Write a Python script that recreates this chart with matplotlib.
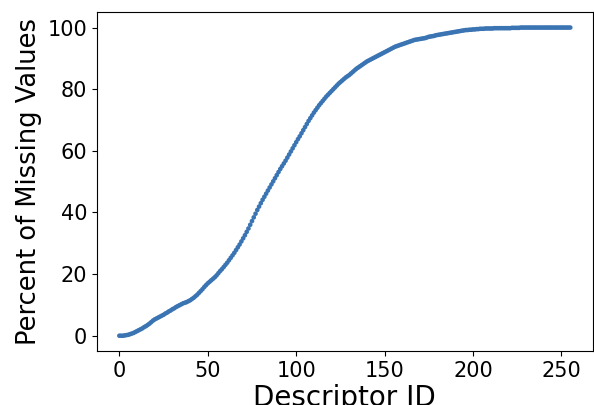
import numpy as np
import matplotlib
matplotlib.use("Agg")
import matplotlib.pyplot as plt

# percent of missing values per descriptor (sorted)
missing_pct = [
    0, 0, 0, 0.1, 0.2, 0.3, 0.5, 0.7, 0.9, 1.2,
    1.5, 1.8, 2.1, 2.4, 2.8, 3.1, 3.5, 3.9, 4.4, 4.9,
    5.3, 5.6, 5.9, 6.2, 6.5, 6.8, 7.2, 7.5, 7.9, 8.2,
    8.6, 8.9, 9.3, 9.6, 9.9, 10.2, 10.5, 10.7, 10.9, 11.2,
    11.5, 11.9, 12.3, 12.8, 13.3, 13.9, 14.5, 15.1, 15.8, 16.4,
    17.0, 17.5, 18.0, 18.5, 19.0, 19.6, 20.3, 21.0, 21.6, 22.3,
    23.0, 23.7, 24.5, 25.3, 26.1, 26.9, 27.8, 28.7, 29.6, 30.6,
    31.6, 32.6, 33.7, 34.8, 36.0, 37.2, 38.4, 39.6, 40.8, 41.9,
    43.0, 44.1, 45.1, 46.1, 47.1, 48.1, 49.1, 50.1, 51.1, 52.1,
    53.1, 54.1, 55.0, 55.9, 56.8, 57.8, 58.8, 59.8, 60.8, 61.8,
    62.8, 63.8, 64.7, 65.7, 66.7, 67.7, 68.7, 69.7, 70.6, 71.5,
    72.4, 73.2, 74.0, 74.8, 75.5, 76.2, 76.9, 77.6, 78.2, 78.8,
    79.4, 80.0, 80.6, 81.2, 81.8, 82.3, 82.8, 83.3, 83.8, 84.2,
    84.6, 85.1, 85.6, 86.1, 86.6, 87.0, 87.4, 87.8, 88.2, 88.6,
    89.0, 89.3, 89.6, 89.9, 90.2, 90.5, 90.8, 91.1, 91.4, 91.7,
    92.0, 92.3, 92.6, 92.9, 93.2, 93.5, 93.8, 94.0, 94.2, 94.4,
    94.6, 94.8, 95.0, 95.2, 95.4, 95.6, 95.8, 96.0, 96.1, 96.2,
    96.3, 96.4, 96.5, 96.6, 96.8, 97.0, 97.1, 97.2, 97.3, 97.5,
    97.6, 97.7, 97.8, 97.9, 98.0, 98.1, 98.2, 98.3, 98.4, 98.5,
    98.6, 98.7, 98.8, 98.9, 99.0, 99.1, 99.2, 99.2, 99.3, 99.3,
    99.4, 99.4, 99.5, 99.5, 99.6, 99.6, 99.6, 99.7, 99.7, 99.7,
    99.7, 99.7, 99.8, 99.8, 99.8, 99.8, 99.8, 99.8, 99.8, 99.8,
    99.8, 99.8, 99.9, 99.9, 99.9, 99.9, 99.9, 100, 100, 100,
    100, 100, 100, 100, 100, 100, 100, 100, 100, 100,
    100, 100, 100, 100, 100, 100, 100, 100, 100, 100,
    100, 100, 100, 100, 100, 100,
]
descriptor_id = np.arange(len(missing_pct))

fig = plt.figure(figsize=(5.94, 4.05), dpi=100)
ax = fig.add_axes([0.163, 0.133, 0.835, 0.837])
ax.scatter(descriptor_id, missing_pct, s=11, color="#3a74b3", edgecolors="none")

ax.set_xlabel("Descriptor ID", fontsize=20, labelpad=2)
ax.set_ylabel("Percent of Missing Values", fontsize=18.5)
ax.tick_params(labelsize=15)

fig.savefig("out.png", dpi=100)
